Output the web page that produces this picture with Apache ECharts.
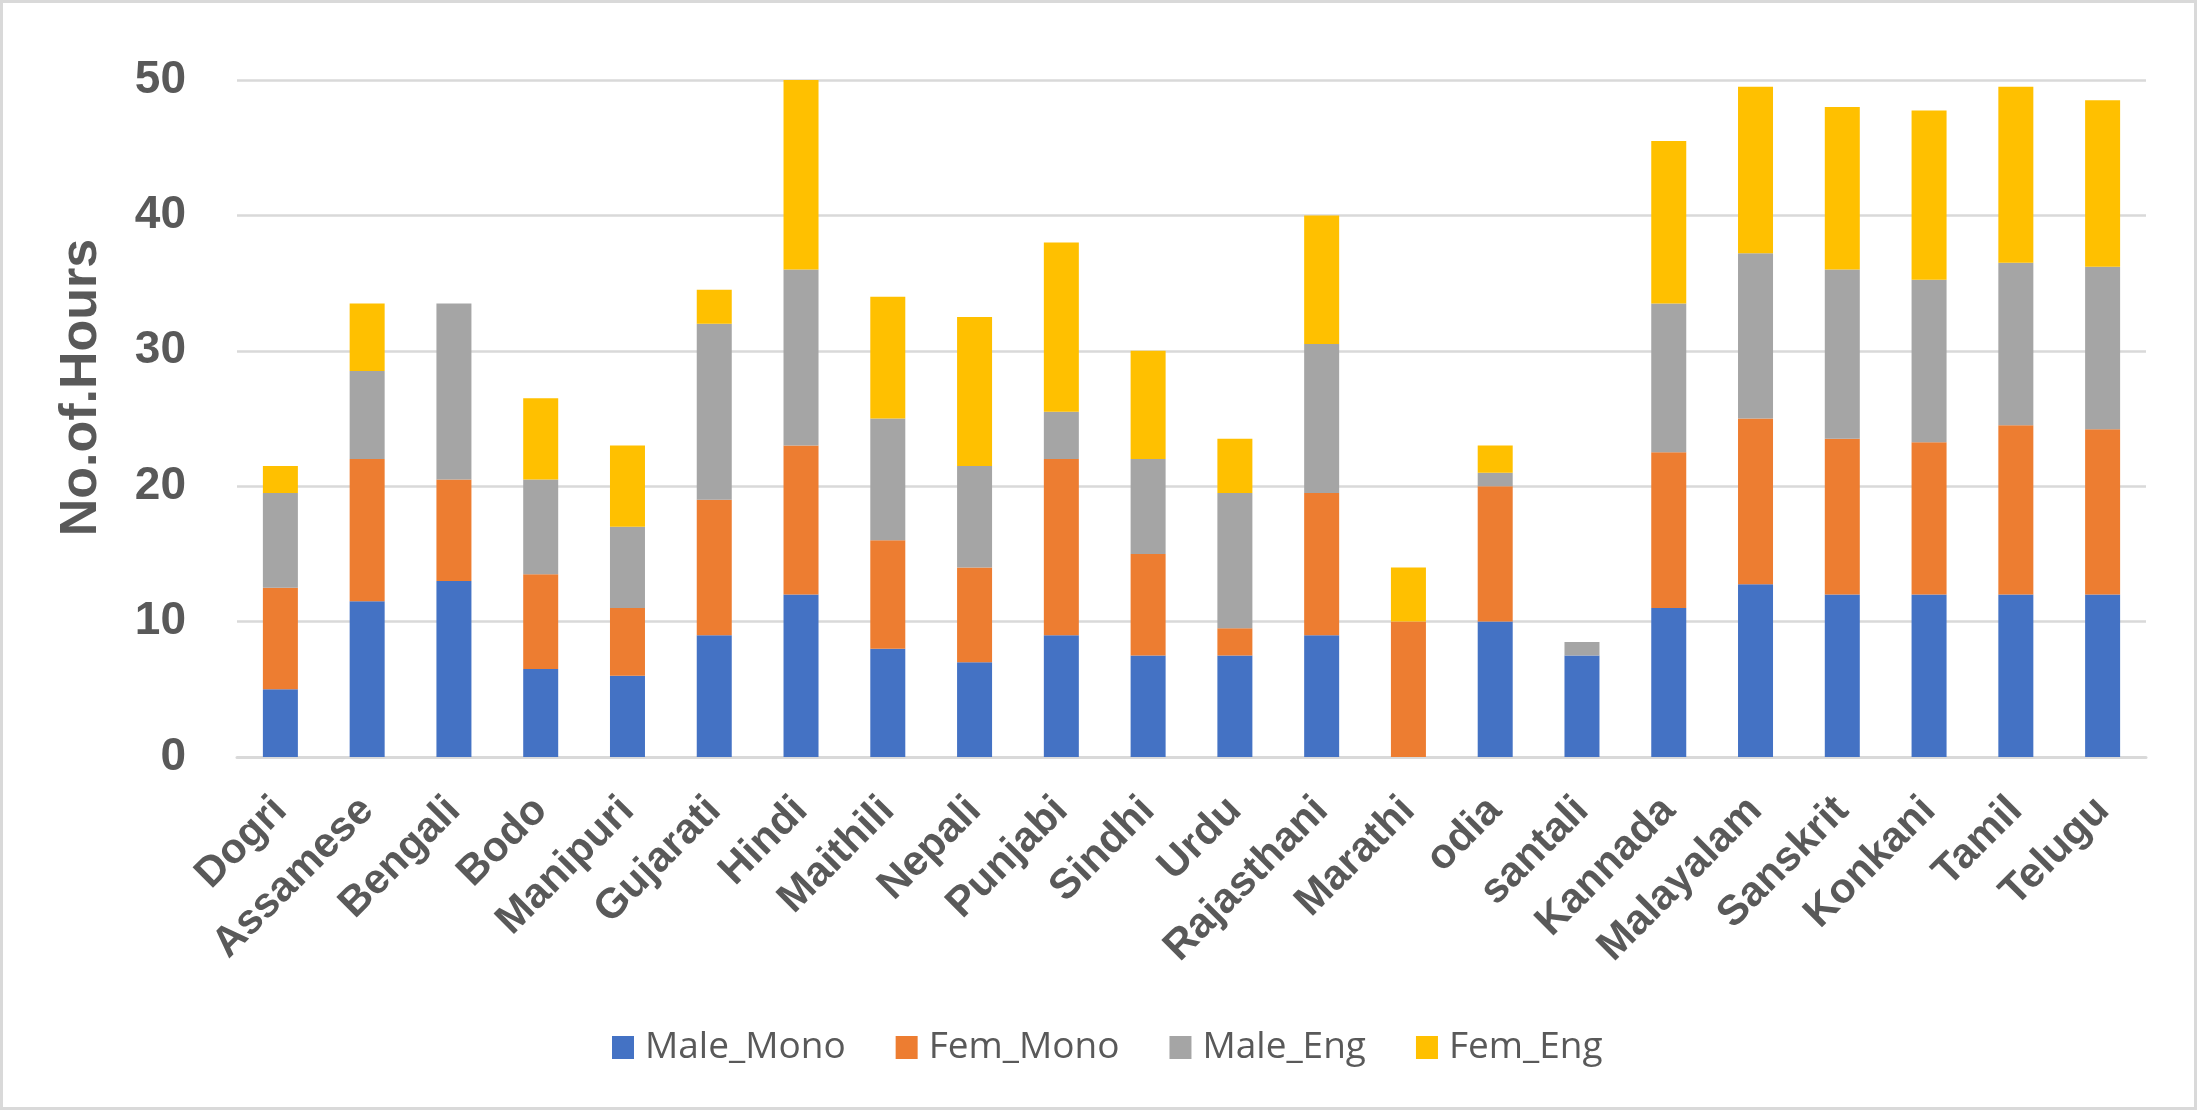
<!DOCTYPE html>
<html>
<head>
<meta charset="utf-8">
<script src="https://cdn.jsdelivr.net/npm/echarts@6/dist/echarts.min.js"></script>
<style>
    html, body { margin: 0; padding: 0; background: #fff; }
    #zhuzhuang { width: 2197px; height: 1110px; box-sizing: border-box; border: 3px solid #d9d9d9; }
</style>
</head>
<body>
<div id="zhuzhuang"></div>
<script>
var categories = ['Dogri', 'Assamese', 'Bengali', 'Bodo', 'Manipuri', 'Gujarati', 'Hindi', 'Maithili', 'Nepali', 'Punjabi', 'Sindhi',
    'Urdu', 'Rajasthani', 'Marathi', 'odia', 'santali', 'Kannada', 'Malayalam', 'Sanskrit', 'Konkani', 'Tamil', 'Telugu'];
var maleMono = [5, 11.5, 13, 6.5, 6, 9, 12, 8, 7, 9, 7.5, 7.5, 9, 0, 10, 7.5, 11, 12.75, 12, 12, 12, 12];
var femMono = [7.5, 10.5, 7.5, 7, 5, 10, 11, 8, 7, 13, 7.5, 2, 10.5, 10, 10, 0, 11.5, 12.25, 11.5, 11.25, 12.5, 12.2];
var maleEng = [7, 6.5, 13, 7, 6, 13, 13, 9, 7.5, 3.5, 7, 10, 11, 0, 1, 1, 11, 12.2, 12.5, 12, 12, 12];
var femEng = [2, 5, 0, 6, 6, 2.5, 14, 9, 11, 12.5, 8, 4, 9.5, 4, 2, 0, 12, 12.3, 12, 12.5, 13, 12.3];
var yTicks = [0, 10, 20, 30, 40, 50];

var myChart = echarts.init(document.getElementById('zhuzhuang'));
var grey = '#595959';

function barSeries(name, data, color) {
    return {
        name: name,
        type: 'bar',
        stack: 'hours',
        barWidth: 35,
        data: data,
        itemStyle: { color: color }
    };
}

var option = {
    animation: false,
    color: ['#4472C4', '#ED7D31', '#A5A5A5', '#FFC000'],
    grid: { left: 234, right: 48, top: 77, bottom: 350 },
    legend: {
        left: 604,
        top: 1021,
        itemWidth: 22,
        itemHeight: 23,
        itemGap: 50,
        icon: 'rect',
        textStyle: { color: grey, fontFamily: 'Open Sans', fontSize: 37, padding: [0, 0, 0, 6] },
        data: ['Male_Mono', 'Fem_Mono', 'Male_Eng', 'Fem_Eng']
    },
    xAxis: {
        type: 'category',
        data: categories,
        axisTick: { show: false },
        axisLine: { lineStyle: { color: '#d9d9d9', width: 3 } },
        axisLabel: {
            rotate: 45,
            interval: 0,
            margin: 47,
            color: grey,
            fontFamily: 'Liberation Sans',
            fontWeight: 'bold',
            fontSize: 42
        }
    },
    yAxis: {
        type: 'value',
        min: yTicks[0],
        max: yTicks[yTicks.length - 1],
        interval: 10,
        name: 'No.of.Hours',
        nameLocation: 'middle',
        nameGap: 129,
        nameTextStyle: { color: grey, fontFamily: 'Liberation Sans', fontWeight: 'bold', fontSize: 52, padding: [0, 0, 0, 62] },
        axisLine: { show: false },
        axisTick: { show: false },
        axisLabel: { margin: 51, color: grey, fontFamily: 'Liberation Sans', fontWeight: 'bold', fontSize: 46 },
        splitLine: { lineStyle: { color: '#d9d9d9', width: 2.5 } }
    },
    series: [
        barSeries('Male_Mono', maleMono, '#4472C4'),
        barSeries('Fem_Mono', femMono, '#ED7D31'),
        barSeries('Male_Eng', maleEng, '#A5A5A5'),
        barSeries('Fem_Eng', femEng, '#FFC000')
    ]
};
myChart.setOption(option);
window.addEventListener("resize", function () { myChart.resize(); });
</script>
</body>
</html>
